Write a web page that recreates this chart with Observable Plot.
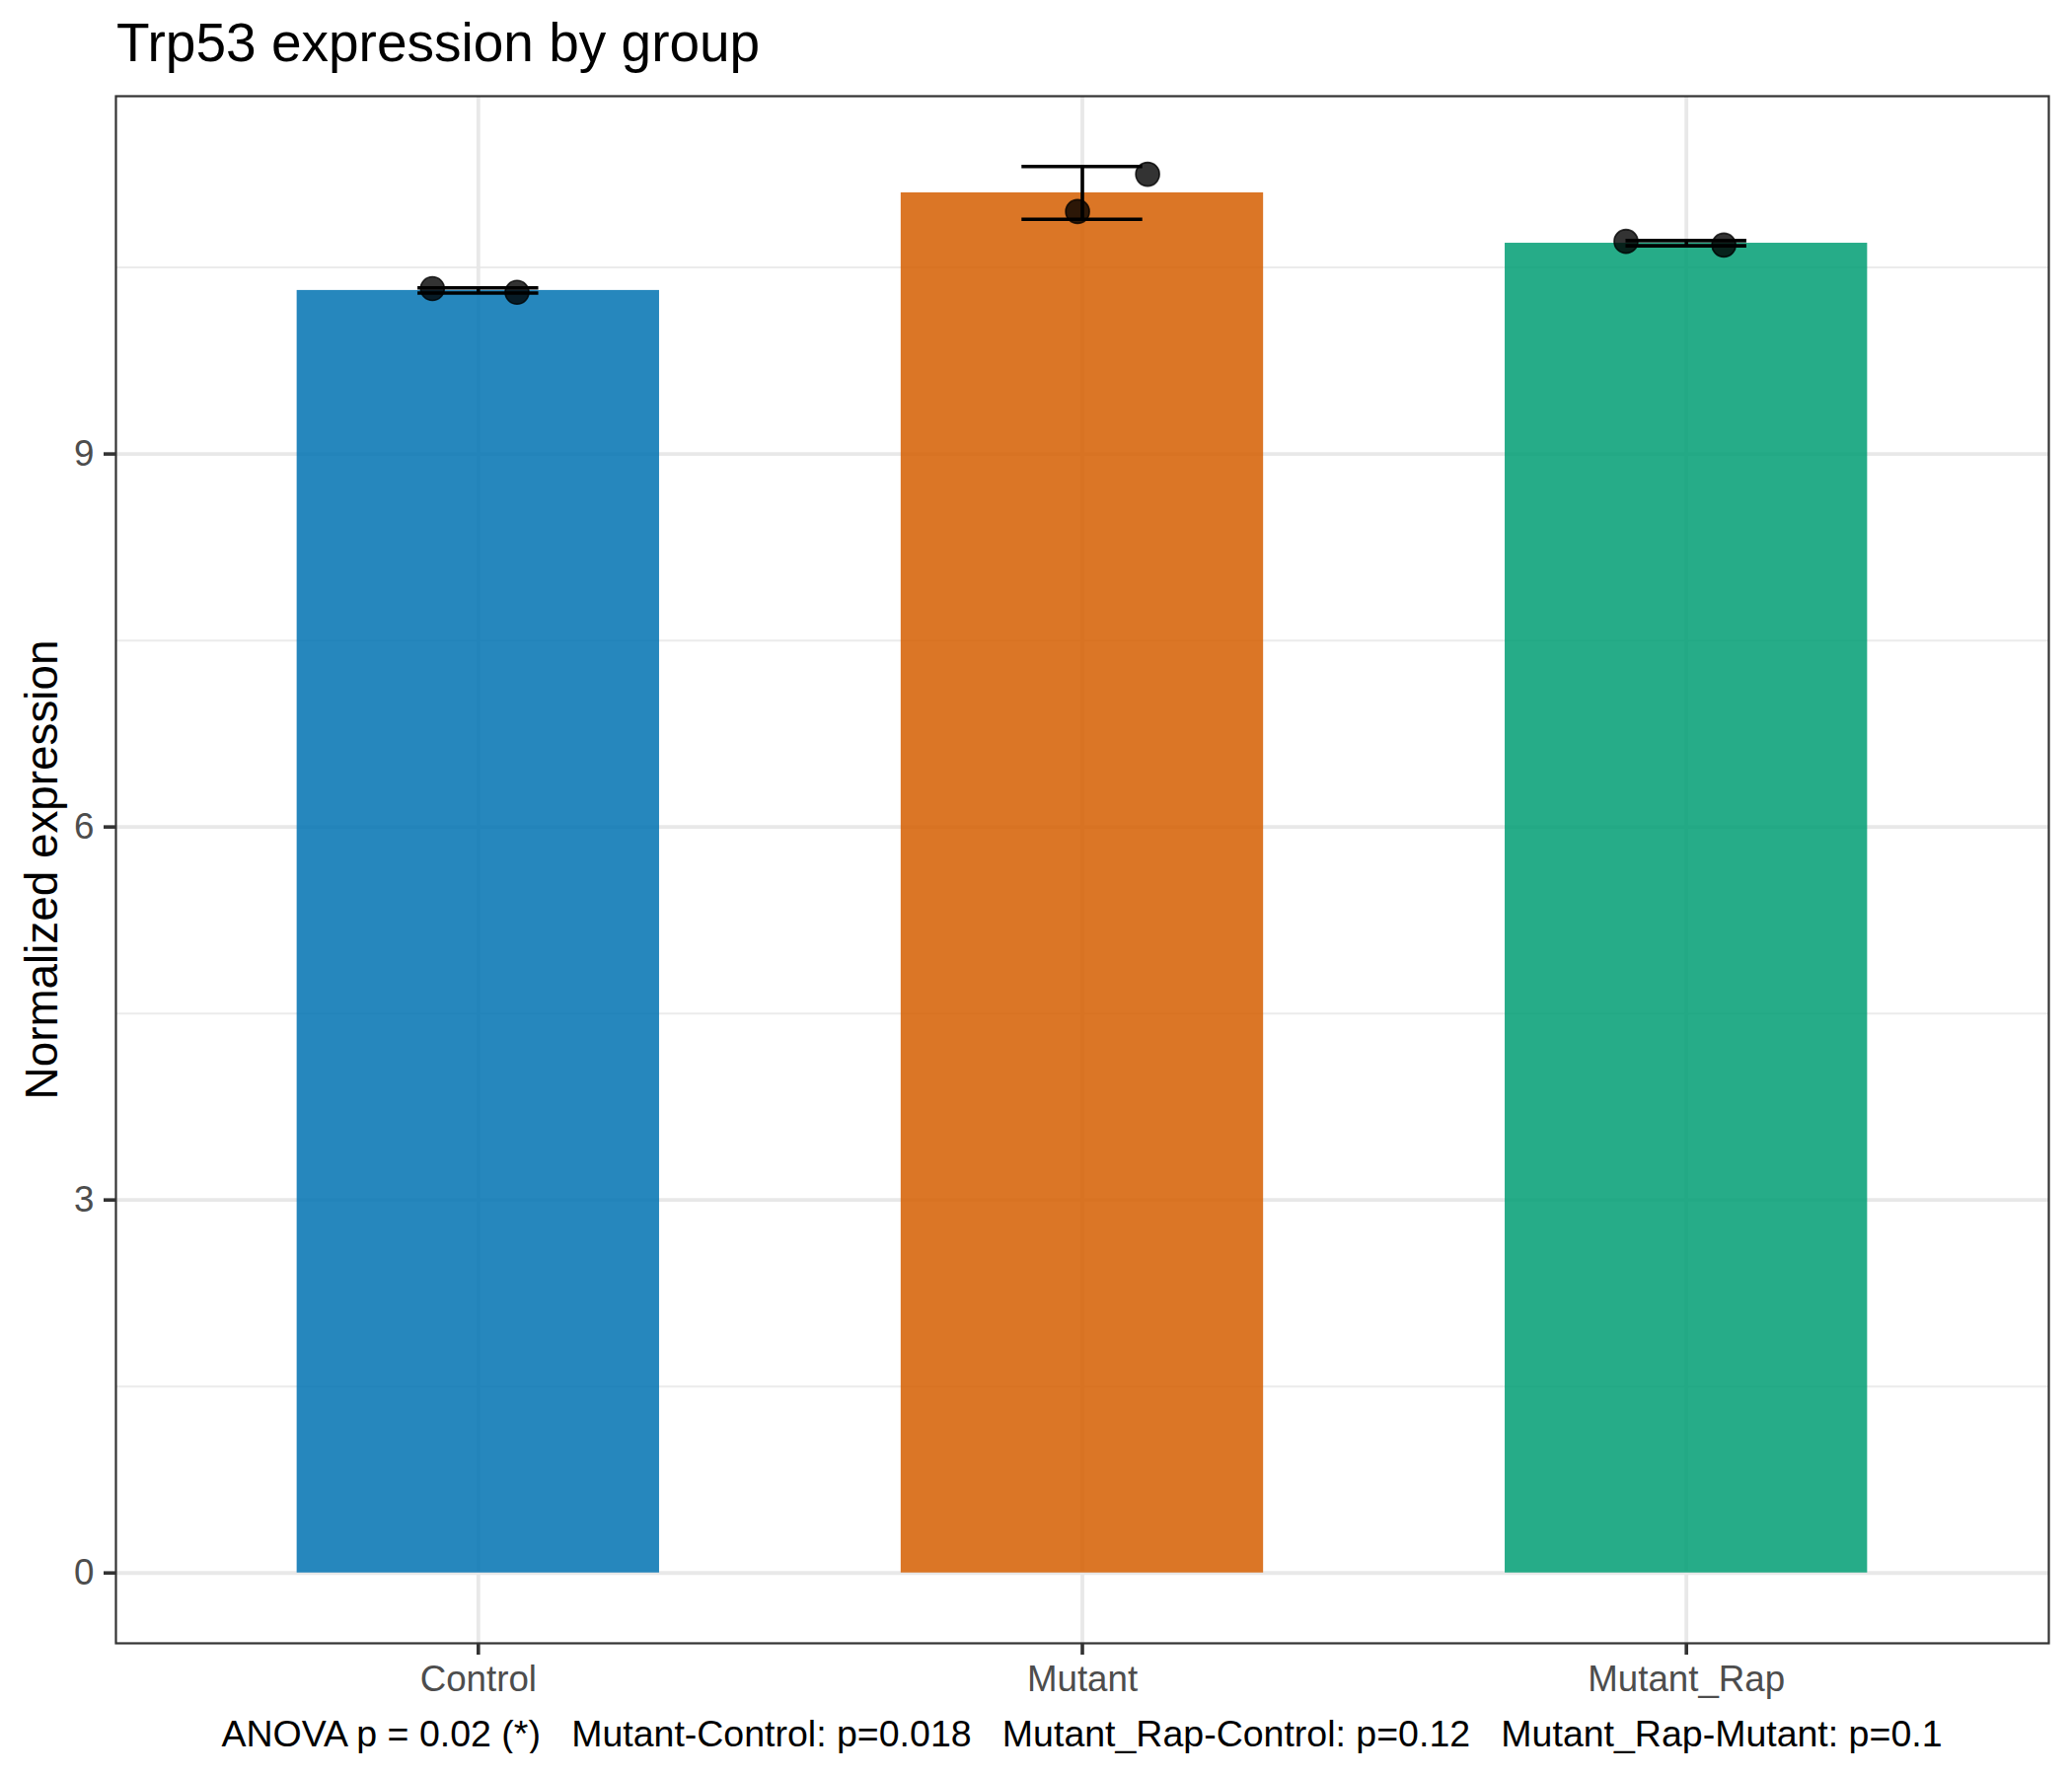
<!DOCTYPE html>
<html>
<head>
<meta charset="utf-8">
<script src="https://cdn.jsdelivr.net/npm/d3@7"></script>
<script src="https://cdn.jsdelivr.net/npm/@observablehq/plot@0.6"></script>
<style>
  html, body { margin: 0; padding: 0; background: #fff; }
  #wrap { width: 2100px; font-family: "Liberation Sans", Arial, sans-serif; }
  #title { height: 74px; padding-top: 16px; padding-left: 118px; font-size: 55px; line-height: 55px; color: #000; white-space: nowrap; }
  #caption { box-sizing: border-box; width: 2100px; padding-left: 117px; padding-right: 24px; text-align: center; font-size: 37.5px; line-height: 37.5px; color: #000; white-space: pre; }
  svg { display: block; }
</style>
</head>
<body>
<div id="wrap">
  <div id="title">Trp53 expression by group</div>
  <div id="chart"></div>
  <div id="caption">ANOVA p = 0.02 (*)   Mutant-Control: p=0.018   Mutant_Rap-Control: p=0.12   Mutant_Rap-Mutant: p=0.1</div>
</div>
<script>
// ---- data ----
const groups = ["Control", "Mutant", "Mutant_Rap"];
const groupColors = ["#0072B2", "#D55E00", "#009E73"];
const groupMeans = [10.315, 11.10, 10.695];
const groupSD = [0.021, 0.212, 0.021];

const sampleGroup = ["Control", "Control", "Mutant", "Mutant", "Mutant_Rap", "Mutant_Rap"];
const sampleValue = [10.33, 10.30, 10.95, 11.25, 10.71, 10.68];
const sampleJitter = [-0.076, 0.064, -0.008, 0.108, -0.10, 0.062];

const yMajorTicks = [0, 3, 6, 9];
const yMinorTicks = [1.5, 4.5, 7.5, 10.5];
const yLabel = "Normalized expression";

// ---- tables built from the arrays ----
const summary = groups.map((g, i) => ({
  group: g, pos: i + 1, mean: groupMeans[i],
  lo: groupMeans[i] - groupSD[i], hi: groupMeans[i] + groupSD[i],
  color: groupColors[i]
}));
const samples = sampleValue.map((v, i) => ({
  group: sampleGroup[i], value: v,
  xpos: groups.indexOf(sampleGroup[i]) + 1 + sampleJitter[i]
}));

const barHalf = 0.3, errHalf = 0.1;
const yMax = d3.max(summary, d => d.hi);
const pad = yMax * 0.05;

const chart = Plot.plot({
  width: 2100,
  height: 1649,
  marginLeft: 117,
  marginRight: 24,
  marginTop: 7,
  marginBottom: 74,
  style: { fontFamily: '"Liberation Sans", Arial, sans-serif', fontSize: "36.7px", background: "#fff" },
  x: { type: "linear", domain: [0.4, 3.6], axis: null },
  y: { domain: [0 - pad, yMax + pad], axis: null },
  marks: [
    Plot.gridY(yMinorTicks, { stroke: "#EBEBEB", strokeOpacity: 1, strokeWidth: 2 }),
    Plot.gridY(yMajorTicks, { stroke: "#E8E8E8", strokeOpacity: 1, strokeWidth: 3.8 }),
    Plot.gridX([1, 2, 3], { stroke: "#E8E8E8", strokeOpacity: 1, strokeWidth: 3.8 }),
    Plot.rect(summary, {
      x1: d => d.pos - barHalf, x2: d => d.pos + barHalf,
      y1: 0, y2: "mean", fill: d => d.color, fillOpacity: 0.85
    }),
    Plot.dot(samples, {
      x: "xpos", y: "value", r: 12, fill: "#000", fillOpacity: 0.8,
      stroke: "#000", strokeOpacity: 0.8, strokeWidth: 1.6
    }),
    Plot.ruleX(summary, { x: "pos", y1: "lo", y2: "hi", stroke: "#000", strokeWidth: 3.6 }),
    Plot.ruleY(summary, { y: "lo", x1: d => d.pos - errHalf, x2: d => d.pos + errHalf, stroke: "#000", strokeWidth: 3.6 }),
    Plot.ruleY(summary, { y: "hi", x1: d => d.pos - errHalf, x2: d => d.pos + errHalf, stroke: "#000", strokeWidth: 3.6 }),
    Plot.frame({ stroke: "#333333", strokeWidth: 2.2 }),
    Plot.axisY(yMajorTicks, {
      tickSize: 12, tickPadding: 10, stroke: "#333333", strokeWidth: 3.6,
      fill: "#4D4D4D", fontSize: 36.7, tickFormat: d => String(d), label: null
    }),
    Plot.axisX([1, 2, 3], {
      tickSize: 12, tickPadding: 10, stroke: "#333333", strokeWidth: 3.6,
      fill: "#4D4D4D", fontSize: 36.7, tickFormat: d => groups[d - 1], label: null
    }),
    Plot.text([yLabel], {
      frameAnchor: "left", text: d => d, rotate: -90, dx: -74,
      fontSize: 45.8, fill: "#000", textAnchor: "middle", lineAnchor: "middle"
    })
  ]
});
document.getElementById("chart").appendChild(chart);
</script>
</body>
</html>
